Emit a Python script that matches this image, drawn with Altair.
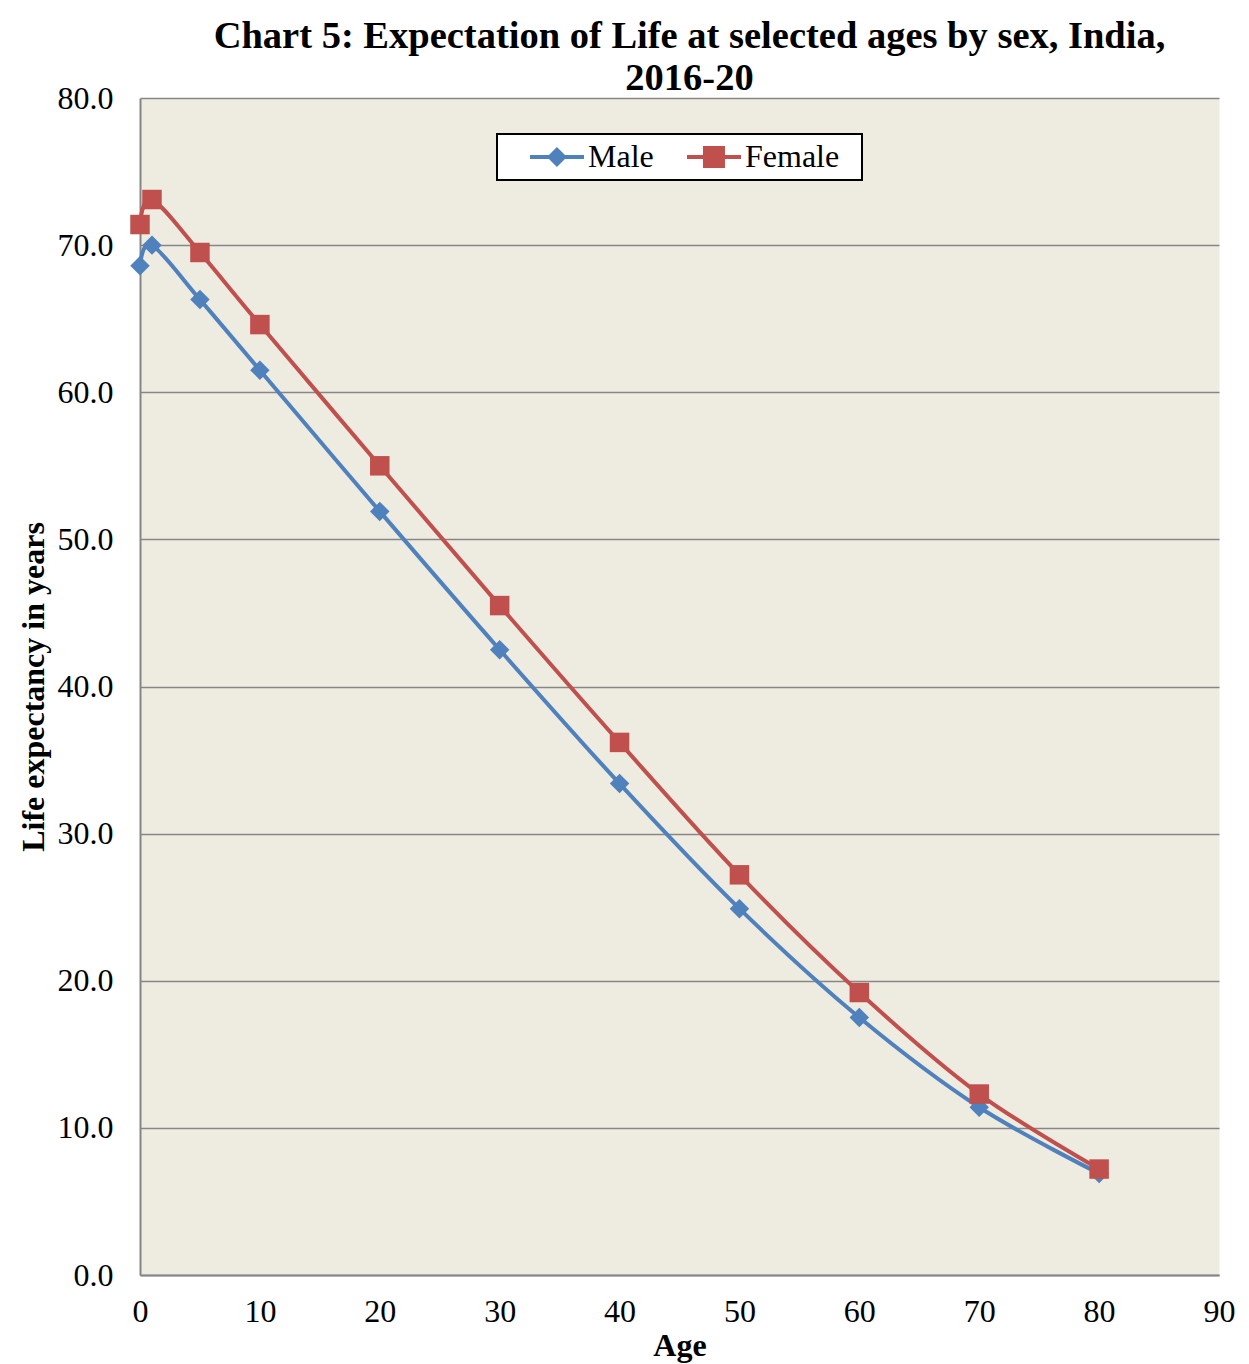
import altair as alt
import pandas as pd

# ---- data ----
ages = [0, 1, 5, 10, 20, 30, 40, 50, 60, 70, 80]
male = [68.6, 70.0, 66.3, 61.5, 51.9, 42.5, 33.4, 24.9, 17.5, 11.4, 6.9]
female = [71.4, 73.1, 69.5, 64.6, 55.0, 45.5, 36.2, 27.2, 19.2, 12.3, 7.2]
series = ["Male", "Female"]
y_ticks = [0, 10, 20, 30, 40, 50, 60, 70, 80]
x_ticks = [0, 10, 20, 30, 40, 50, 60, 70, 80, 90]
title_lines = ["Chart 5: Expectation of Life at selected ages by sex, India,", "2016-20"]

# ---- styles ----
colors = ["#4F81BD", "#C0504D"]
marker_shapes = ["diamond", "square"]
# legend symbols: line segment with the series marker in its middle
LINE_PART = "M0.909,-0.18L5.82,-0.18L5.82,0.18L0.909,0.18Z"
legend_symbols = [
    LINE_PART + " M3.36,-0.91L4.27,0L3.36,0.91L2.45,0Z",
    LINE_PART + " M2.36,-1L4.36,-1L4.36,1L2.36,1Z",
]
FONT = "Liberation Serif"
GRID = "#868686"
FS = 32

rows = []
for s, vals in zip(series, [male, female]):
    for a, v in zip(ages, vals):
        rows.append({"Age": a, "Value": v, "Sex": s})
df = pd.DataFrame(rows)

x = alt.X(
    "Age:Q",
    scale=alt.Scale(domain=[0, 90], nice=False, zero=False),
    axis=alt.Axis(
        values=x_ticks, title="Age", grid=False, ticks=False,
        domainColor=GRID, domainWidth=2,
        labelFont=FONT, labelFontSize=FS, labelColor="black", labelPadding=21,
        labelFlush=False,
        titleFont=FONT, titleFontSize=FS, titleFontWeight="bold", titleColor="black",
        titlePadding=3,
    ),
)
y = alt.Y(
    "Value:Q",
    scale=alt.Scale(domain=[0, 80], nice=False),
    axis=alt.Axis(
        values=y_ticks, format=".1f", title="Life expectancy in years",
        grid=True, gridColor=GRID, gridWidth=1.5, ticks=False,
        domainColor=GRID, domainWidth=2,
        labelFont=FONT, labelFontSize=FS, labelColor="black", labelPadding=27,
        titleFont=FONT, titleFontSize=FS, titleFontWeight="bold", titleColor="black",
        titlePadding=7,
    ),
)

color_plain = alt.Color("Sex:N", scale=alt.Scale(domain=series, range=colors), legend=None)

lines = alt.Chart(df).mark_line(strokeWidth=4, interpolate="cardinal").encode(
    x=x, y=y, color=color_plain
)
points = alt.Chart(df).mark_point(filled=True, size=380, opacity=1).encode(
    x=x, y=y, color=color_plain,
    shape=alt.Shape("Sex:N", scale=alt.Scale(domain=series, range=marker_shapes), legend=None),
)

leg_props = dict(
    title="\u00a0", titleOrient="right", titleFontSize=1, titlePadding=16,
    orient="none", legendX=357, legendY=36,
    direction="horizontal", columns=2,
    fillColor="white", strokeColor="black", padding=7,
    symbolSize=484, symbolStrokeWidth=0, symbolOpacity=1,
    labelOffset=52, columnPadding=7,
    labelFont=FONT, labelFontSize=FS, labelColor="black",
)
legend_layer = alt.Chart(df).transform_filter("false").mark_point(filled=True, opacity=1).encode(
    x=x, y=y,
    color=alt.Color("Sex:N", scale=alt.Scale(domain=series, range=colors), legend=alt.Legend(**leg_props)),
    shape=alt.Shape("Sex:N", scale=alt.Scale(domain=series, range=legend_symbols), legend=alt.Legend(**leg_props)),
)

chart = (
    alt.layer(lines, points, legend_layer)
    .resolve_scale(color="independent", shape="independent")
    .properties(
        width=1079,
        height=1177,
        padding={"left": 132, "top": 90, "right": 22, "bottom": 100},
        autosize=alt.AutoSizeParams(type="none"),
        title=alt.TitleParams(
            title_lines, font=FONT, fontSize=38.5, fontWeight="bold", color="black",
            anchor="middle", lineHeight=42, offset=-16, dx=10,
        ),
    )
    .configure(background="white")
    .configure_view(fill="#EEEBE0", stroke="transparent")
    .configure_legend(strokeWidth=2)
)

chart.save("out.html", embed_options={"renderer": "svg", "actions": False})
